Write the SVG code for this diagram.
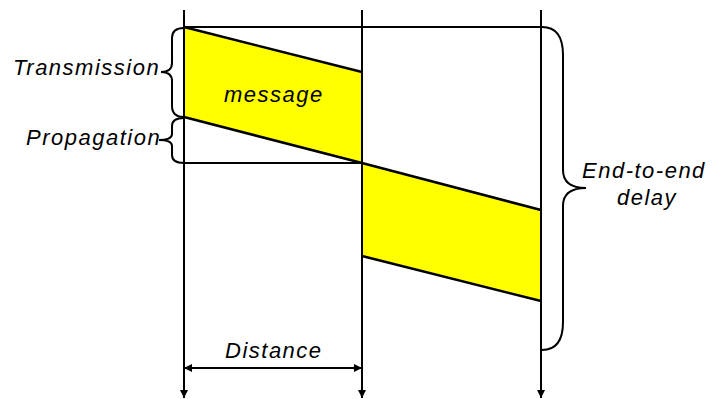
<svg xmlns="http://www.w3.org/2000/svg" width="717" height="399" viewBox="0 0 717 399">
<defs>
<marker id="ah" viewBox="0 0 10 10" refX="10" refY="5" markerWidth="8" markerHeight="8" markerUnits="userSpaceOnUse" orient="auto-start-reverse">
<path d="M0,0 L10,5 L0,10 z" fill="#000"/>
</marker>
<style>
.ln{stroke:#000;stroke-width:2;fill:none}
.msg{fill:#ffff00;stroke:none}
.edge{stroke:#000;stroke-width:2.5;fill:none}
.br{stroke:#000;stroke-width:2;fill:none}
.t{font-family:"Liberation Sans",Arial,sans-serif;font-style:italic;font-size:22px;letter-spacing:1.5px;fill:#000}
</style>
</defs>
<rect width="717" height="399" fill="#fff"/>
<g id="messages">
<polygon class="msg" points="184,27 362,72 362,163 184,117"/>
<polygon class="msg" points="362,163 541,210 541,301 362,256"/>
</g>
<g id="connectors">
<line class="ln" x1="184" y1="27" x2="541" y2="27"/>
<line class="ln" x1="184" y1="163" x2="362" y2="163"/>
<line class="ln" x1="184" y1="10" x2="184" y2="398" marker-end="url(#ah)"/>
<line class="ln" x1="362" y1="10" x2="362" y2="398" marker-end="url(#ah)"/>
<line class="ln" x1="541" y1="10" x2="541" y2="398" marker-end="url(#ah)"/>
<line class="edge" x1="184" y1="27" x2="362" y2="72"/>
<line class="edge" x1="184" y1="117" x2="362" y2="163"/>
<line class="edge" x1="362" y1="163" x2="541" y2="210"/>
<line class="edge" x1="362" y1="256" x2="541" y2="301"/>
<line class="ln" x1="184" y1="368" x2="362" y2="368" marker-start="url(#ah)" marker-end="url(#ah)"/>
</g>
<g id="transmission">
<path class="br" d="M184,28 Q172,28 172,38 L172,63 Q172,72 161,72 Q172,72 172,81 L172,106 Q172,117 184,117"/>
<text class="t" x="13" y="75">Transmission</text>
</g>
<g id="propagation">
<path class="br" d="M184,118 Q172,118 172,126 L172,134 Q172,140 159,140 Q172,140 172,146 L172,155 Q172,163 184,163"/>
<text class="t" x="26" y="145">Propagation</text>
</g>
<g id="message-label">
<text class="t" x="224" y="102">message</text>
</g>
<g id="end-to-end">
<path class="br" d="M542,27 Q563,27 563,55 L563,170 Q563,188 586,188 Q563,188 563,206 L563,322 Q563,350 542,350"/>
<text class="t" x="582" y="178">End-to-end</text>
<text class="t" x="647" y="205" text-anchor="middle">delay</text>
</g>
<g id="distance">
<text class="t" x="225" y="358">Distance</text>
</g>
</svg>
